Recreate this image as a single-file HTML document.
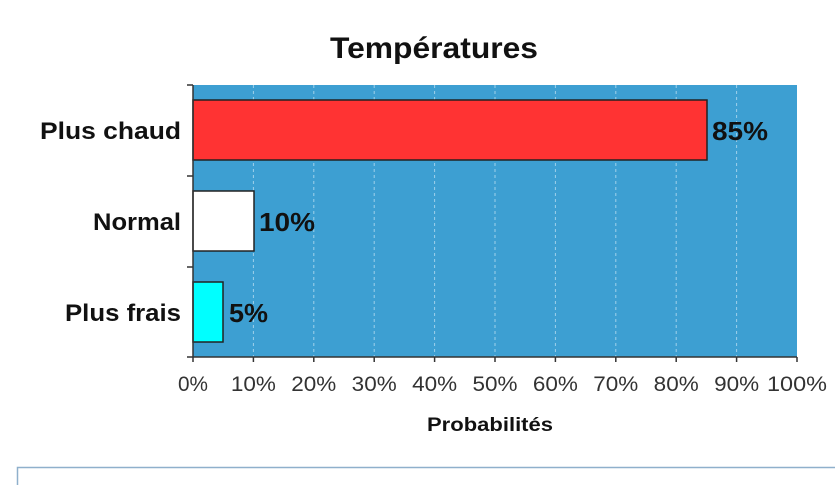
<!DOCTYPE html>
<html><head><meta charset="utf-8"><style>
html,body{margin:0;padding:0;background:#fff;width:835px;height:485px;overflow:hidden}
svg{display:block;font-family:"Liberation Sans",Arial,sans-serif}
</style></head><body>
<svg width="835" height="485" viewBox="0 0 835 485">
<text x="434" y="58" text-anchor="middle" font-size="30" font-weight="bold" fill="#111" textLength="208" lengthAdjust="spacingAndGlyphs">Températures</text>
<rect x="193" y="85" width="604" height="272" fill="#3d9fd2"/>
<g stroke="#9fd0ea" stroke-width="1" stroke-dasharray="3,3">
<line x1="253.4" y1="85" x2="253.4" y2="357"/><line x1="313.8" y1="85" x2="313.8" y2="357"/>
<line x1="374.2" y1="85" x2="374.2" y2="357"/><line x1="434.6" y1="85" x2="434.6" y2="357"/>
<line x1="495" y1="85" x2="495" y2="357"/><line x1="555.4" y1="85" x2="555.4" y2="357"/>
<line x1="615.8" y1="85" x2="615.8" y2="357"/><line x1="676.2" y1="85" x2="676.2" y2="357"/>
<line x1="736.6" y1="85" x2="736.6" y2="357"/>
</g>
<rect x="193" y="100" width="514" height="60" fill="#ff3333" stroke="#222" stroke-width="1.5"/>
<rect x="193" y="191" width="61" height="60" fill="#fff" stroke="#222" stroke-width="1.5"/>
<rect x="193" y="282" width="30" height="60" fill="#00ffff" stroke="#222" stroke-width="1.5"/>
<g stroke="#333" stroke-width="1.5">
<line x1="193" y1="85" x2="193" y2="362"/>
<line x1="187" y1="85" x2="193" y2="85"/><line x1="187" y1="176" x2="193" y2="176"/>
<line x1="187" y1="267" x2="193" y2="267"/><line x1="187" y1="357" x2="193" y2="357"/>
<line x1="193" y1="357" x2="797" y2="357"/>
<line x1="253.4" y1="357" x2="253.4" y2="362"/><line x1="313.8" y1="357" x2="313.8" y2="362"/>
<line x1="374.2" y1="357" x2="374.2" y2="362"/><line x1="434.6" y1="357" x2="434.6" y2="362"/>
<line x1="495" y1="357" x2="495" y2="362"/><line x1="555.4" y1="357" x2="555.4" y2="362"/>
<line x1="615.8" y1="357" x2="615.8" y2="362"/><line x1="676.2" y1="357" x2="676.2" y2="362"/>
<line x1="736.6" y1="357" x2="736.6" y2="362"/><line x1="797" y1="357" x2="797" y2="362"/>
</g>
<g font-size="24" font-weight="bold" fill="#111">
<text x="40" y="139" textLength="141" lengthAdjust="spacingAndGlyphs">Plus chaud</text>
<text x="93" y="230" textLength="88" lengthAdjust="spacingAndGlyphs">Normal</text>
<text x="65" y="321" textLength="116" lengthAdjust="spacingAndGlyphs">Plus frais</text>
</g>
<g font-size="26" font-weight="bold" fill="#111">
<text x="712" y="140" textLength="56" lengthAdjust="spacingAndGlyphs">85%</text>
<text x="259" y="231" textLength="56" lengthAdjust="spacingAndGlyphs">10%</text>
<text x="229" y="322" textLength="39" lengthAdjust="spacingAndGlyphs">5%</text>
</g>
<g font-size="21" fill="#333" text-anchor="middle">
<text x="193" y="391" textLength="30" lengthAdjust="spacingAndGlyphs">0%</text>
<text x="253.4" y="391" textLength="45" lengthAdjust="spacingAndGlyphs">10%</text>
<text x="313.8" y="391" textLength="45" lengthAdjust="spacingAndGlyphs">20%</text>
<text x="374.2" y="391" textLength="45" lengthAdjust="spacingAndGlyphs">30%</text>
<text x="434.6" y="391" textLength="45" lengthAdjust="spacingAndGlyphs">40%</text>
<text x="495" y="391" textLength="45" lengthAdjust="spacingAndGlyphs">50%</text>
<text x="555.4" y="391" textLength="45" lengthAdjust="spacingAndGlyphs">60%</text>
<text x="615.8" y="391" textLength="45" lengthAdjust="spacingAndGlyphs">70%</text>
<text x="676.2" y="391" textLength="45" lengthAdjust="spacingAndGlyphs">80%</text>
<text x="736.6" y="391" textLength="45" lengthAdjust="spacingAndGlyphs">90%</text>
<text x="797" y="391" textLength="60" lengthAdjust="spacingAndGlyphs">100%</text>
</g>
<text x="490" y="431" text-anchor="middle" font-size="19" font-weight="bold" fill="#111" textLength="126" lengthAdjust="spacingAndGlyphs">Probabilités</text>
<rect x="17.5" y="467.5" width="830" height="30" fill="#fff" stroke="#8fb0cc" stroke-width="1.5"/>
</svg>
</body></html>
